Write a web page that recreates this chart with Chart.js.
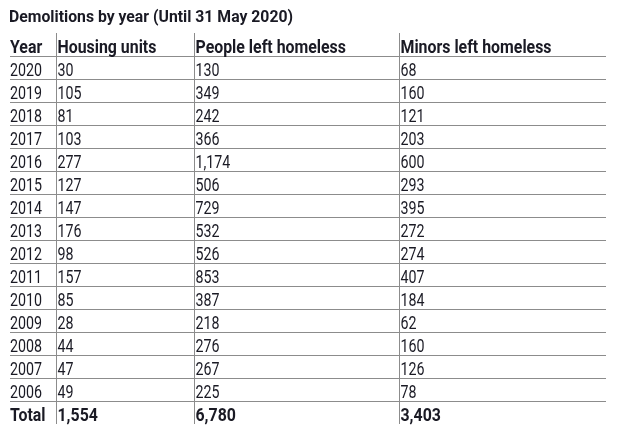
<!DOCTYPE html>
<html>
<head>
<meta charset="utf-8">
<script src="https://cdn.jsdelivr.net/npm/chart.js@4"></script>
<style>
  html, body { margin: 0; padding: 0; background: #fff; }
  #wrap { width: 619px; height: 446px; }
</style>
</head>
<body>
<div id="wrap"><canvas id="demolitions"></canvas></div>
<script>
// Table data
const title = 'Demolitions by year (Until 31 May 2020)';
const columnHeaders = ['Year', 'Housing units', 'People left homeless', 'Minors left homeless'];
const years = ['2020', '2019', '2018', '2017', '2016', '2015', '2014', '2013', '2012', '2011', '2010', '2009', '2008', '2007', '2006'];
const housingUnits = [30, 105, 81, 103, 277, 127, 147, 176, 98, 157, 85, 28, 44, 47, 49];
const peopleHomeless = [130, 349, 242, 366, 1174, 506, 729, 532, 526, 853, 387, 218, 276, 267, 225];
const minorsHomeless = [68, 160, 121, 203, 600, 293, 395, 272, 274, 407, 184, 62, 160, 126, 78];
const totalLabel = 'Total';
const totals = [1554, 6780, 3403];

// layout: where each column starts on the x scale (in table units)
const colStarts = [0, 46, 184, 389];
const tableWidth = 596;

// the reference uses a condensed face; no such font here, so squeeze Roboto
const FONT = "Roboto, 'Noto Sans', sans-serif";
const BODY_FONT = '18px ' + FONT;
const BOLD_FONT = 'bold 18px ' + FONT;
const TITLE_FONT = 'bold 17px ' + FONT;
const TEXT_COLOR = '#1a1a24';
const LINE_COLOR = '#8c8c8c';

const rowLabels = ['header'].concat(years, ['total']);
const fmt = v => v.toLocaleString('en-US');

function rowCells(r) {
    if (r === 0) return columnHeaders;
    if (r === rowLabels.length - 1) return [totalLabel].concat(totals.map(fmt));
    const i = r - 1;
    return [years[i], fmt(housingUnits[i]), fmt(peopleHomeless[i]), fmt(minorsHomeless[i])];
}

function squeeze(ctx, font, sample, targetWidth) {
    ctx.font = font;
    return targetWidth / ctx.measureText(sample).width;
}

function drawText(ctx, txt, x, y, font, sx) {
    ctx.save();
    ctx.font = font;
    ctx.translate(x, y);
    ctx.scale(sx, 1);
    ctx.fillText(txt, 0, 0);
    ctx.restore();
}

const cellText = {
    id: 'cellText',
    afterDraw(chart) {
        const ctx = chart.ctx;
        const xs = chart.scales.x, ys = chart.scales.y;
        ctx.save();
        ctx.fillStyle = TEXT_COLOR;
        ctx.textBaseline = 'alphabetic';
        ctx.textAlign = 'left';
        const sxBody = squeeze(ctx, BODY_FONT, '2020', 32);
        const sxBold = squeeze(ctx, BOLD_FONT, 'Minors left homeless', 151);
        const sxTitle = squeeze(ctx, TITLE_FONT, title, 284);

        drawText(ctx, title, xs.left - 1, 21.5, TITLE_FONT, sxTitle);

        for (let r = 0; r < rowLabels.length; r++) {
            const bold = r === 0 || r === rowLabels.length - 1;
            const y = ys.getPixelForValue(r) + 8.5;
            rowCells(r).forEach((txt, c) => {
                const x = xs.getPixelForValue(colStarts[c]) + (c === 0 ? 0 : 1.5);
                drawText(ctx, txt, x, y, bold ? BOLD_FONT : BODY_FONT, bold ? sxBold : sxBody);
            });
        }
        ctx.restore();
    }
};

new Chart(document.getElementById('demolitions'), {
    type: 'scatter',
    data: { datasets: [] },
    options: {
        responsive: true,
        maintainAspectRatio: false,
        animation: false,
        events: [],
        layout: { padding: { left: 10, right: 13, top: 33, bottom: 22 } },
        plugins: {
            legend: { display: false },
            tooltip: { enabled: false },
            title: { display: false }
        },
        scales: {
            x: {
                type: 'linear',
                min: 0,
                max: tableWidth,
                afterBuildTicks: s => { s.ticks = colStarts.slice(1).map(v => ({ value: v })); },
                afterFit: s => { s.height = 0; },
                ticks: { display: false },
                border: { display: false },
                grid: { color: LINE_COLOR, lineWidth: 1, drawTicks: false }
            },
            y: {
                type: 'category',
                labels: rowLabels,
                offset: true,
                afterFit: s => { s.width = 0; },
                ticks: { display: false },
                border: { display: false },
                grid: {
                    offset: true,
                    drawTicks: false,
                    lineWidth: 1,
                    // skip the line above the header and below the total row
                    color: c => (c.index > 0 ? LINE_COLOR : 'transparent')
                }
            }
        }
    },
    plugins: [cellText]
});
</script>
</body>
</html>
